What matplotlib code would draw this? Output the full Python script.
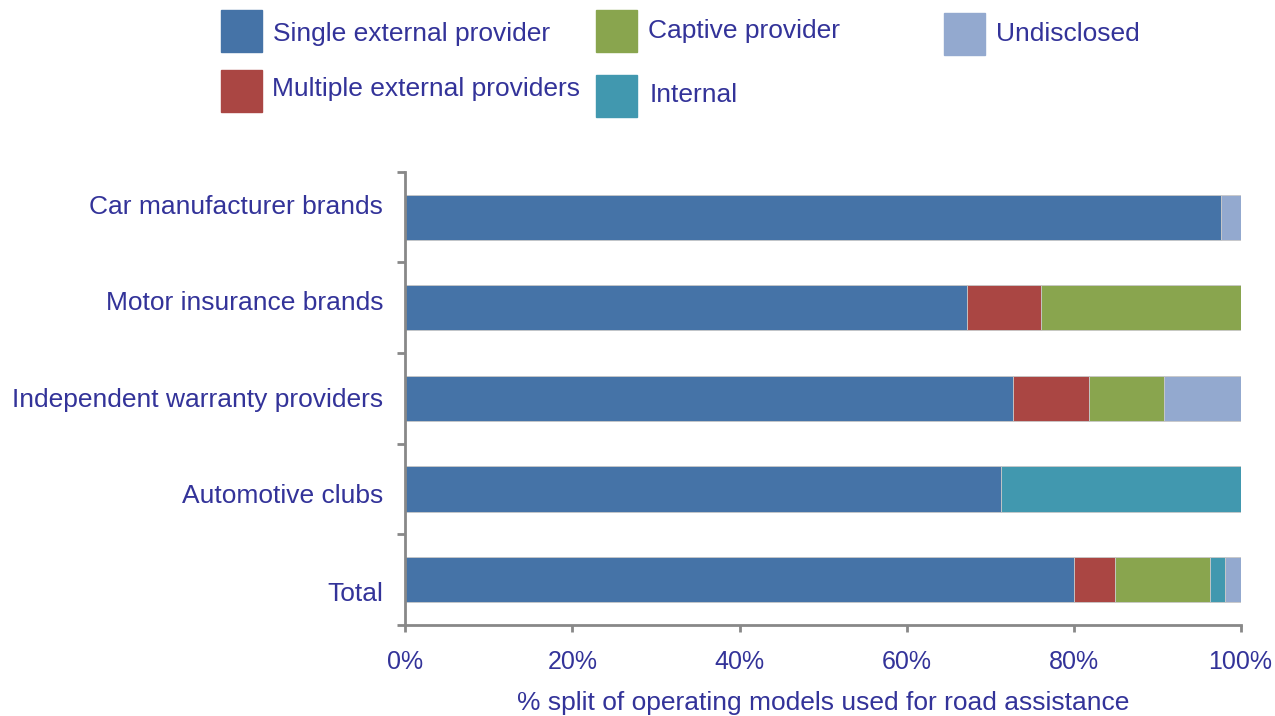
import matplotlib.pyplot as plt
from matplotlib.patches import Rectangle
from matplotlib.ticker import FuncFormatter
from matplotlib.transforms import ScaledTranslation

# Categories listed bottom to top
categories = ['Total', 'Automotive clubs', 'Independent warranty providers',
              'Motor insurance brands', 'Car manufacturer brands']

# Shares in %
single_external = [80.1, 71.3, 72.8, 67.3, 97.7]
multiple_external = [4.9, 0.0, 9.1, 8.8, 0.0]
captive = [11.3, 0.0, 8.9, 23.9, 0.0]
internal = [1.8, 28.7, 0.0, 0.0, 0.0]
undisclosed = [1.9, 0.0, 9.2, 0.0, 2.3]

series = [
    ('Single external provider', single_external, '#4573A7'),
    ('Multiple external providers', multiple_external, '#AA4643'),
    ('Captive provider', captive, '#89A54E'),
    ('Internal', internal, '#4198AF'),
    ('Undisclosed', undisclosed, '#93A9CF'),
]

text_color = '#333399'
fs = 19
plt.rcParams['font.family'] = ['Liberation Sans', 'DejaVu Sans']

fig = plt.figure(figsize=(12.75, 7.16), dpi=100)
ax = fig.add_axes([0.318, 0.127, 0.655, 0.633])

ypos = list(range(len(categories)))
left = [0.0] * len(categories)
colors = {}
for name, vals, col in series:
    ax.barh(ypos, vals, left=left, height=0.5, color=col,
            edgecolor='#c8c8c8', linewidth=0.6)
    left = [l + v for l, v in zip(left, vals)]
    colors[name] = col

ax.set_xlim(0, 100)
ax.set_ylim(-0.5, len(categories) - 0.5)

# axes styling
for s in ['top', 'right']:
    ax.spines[s].set_visible(False)
for s in ['left', 'bottom']:
    ax.spines[s].set_color('#888888')
    ax.spines[s].set_linewidth(2)

ax.set_yticks(ypos)
ax.set_yticklabels(categories, fontsize=fs, color=text_color)
ax.tick_params(axis='y', which='major', length=0, pad=16)
ax.set_yticks([y - 0.5 for y in ypos] + [len(categories) - 0.5], minor=True)
ax.tick_params(axis='y', which='minor', length=6, width=2, color='#888888')

# the category labels sit slightly off the bar centres in the original
label_shift_px = [-12, -4, 1, 7, 13]
for lab, dy in zip(ax.get_yticklabels(), label_shift_px):
    lab.set_transform(lab.get_transform() +
                      ScaledTranslation(0, dy / 100, fig.dpi_scale_trans))

ax.set_xticks([0, 20, 40, 60, 80, 100])
ax.xaxis.set_major_formatter(FuncFormatter(lambda v, p: f'{v:.0f}%'))
ax.tick_params(axis='x', length=5, width=2, color='#888888', pad=13,
               labelsize=18, labelcolor=text_color)
ax.set_xlabel('% split of operating models used for road assistance',
              fontsize=fs, color=text_color, labelpad=12)

# legend drawn at fixed figure positions, as in the original
W, H = 1275.0, 716.0
legend_items = [
    ('Single external provider', 221, 10, 273, 34),
    ('Captive provider', 596, 10, 648, 31),
    ('Undisclosed', 944, 13, 996, 34),
    ('Multiple external providers', 221, 70, 272, 89),
    ('Internal', 596, 75, 650, 95),
]
for name, bx, by, tx, ty in legend_items:
    fig.add_artist(Rectangle((bx / W, 1 - (by + 42) / H), 41 / W, 42 / H,
                             transform=fig.transFigure, color=colors[name]))
    fig.text(tx / W, 1 - ty / H, name, fontsize=fs, color=text_color,
             va='center', ha='left')

plt.savefig('out.png', dpi=100)
plt.close()
